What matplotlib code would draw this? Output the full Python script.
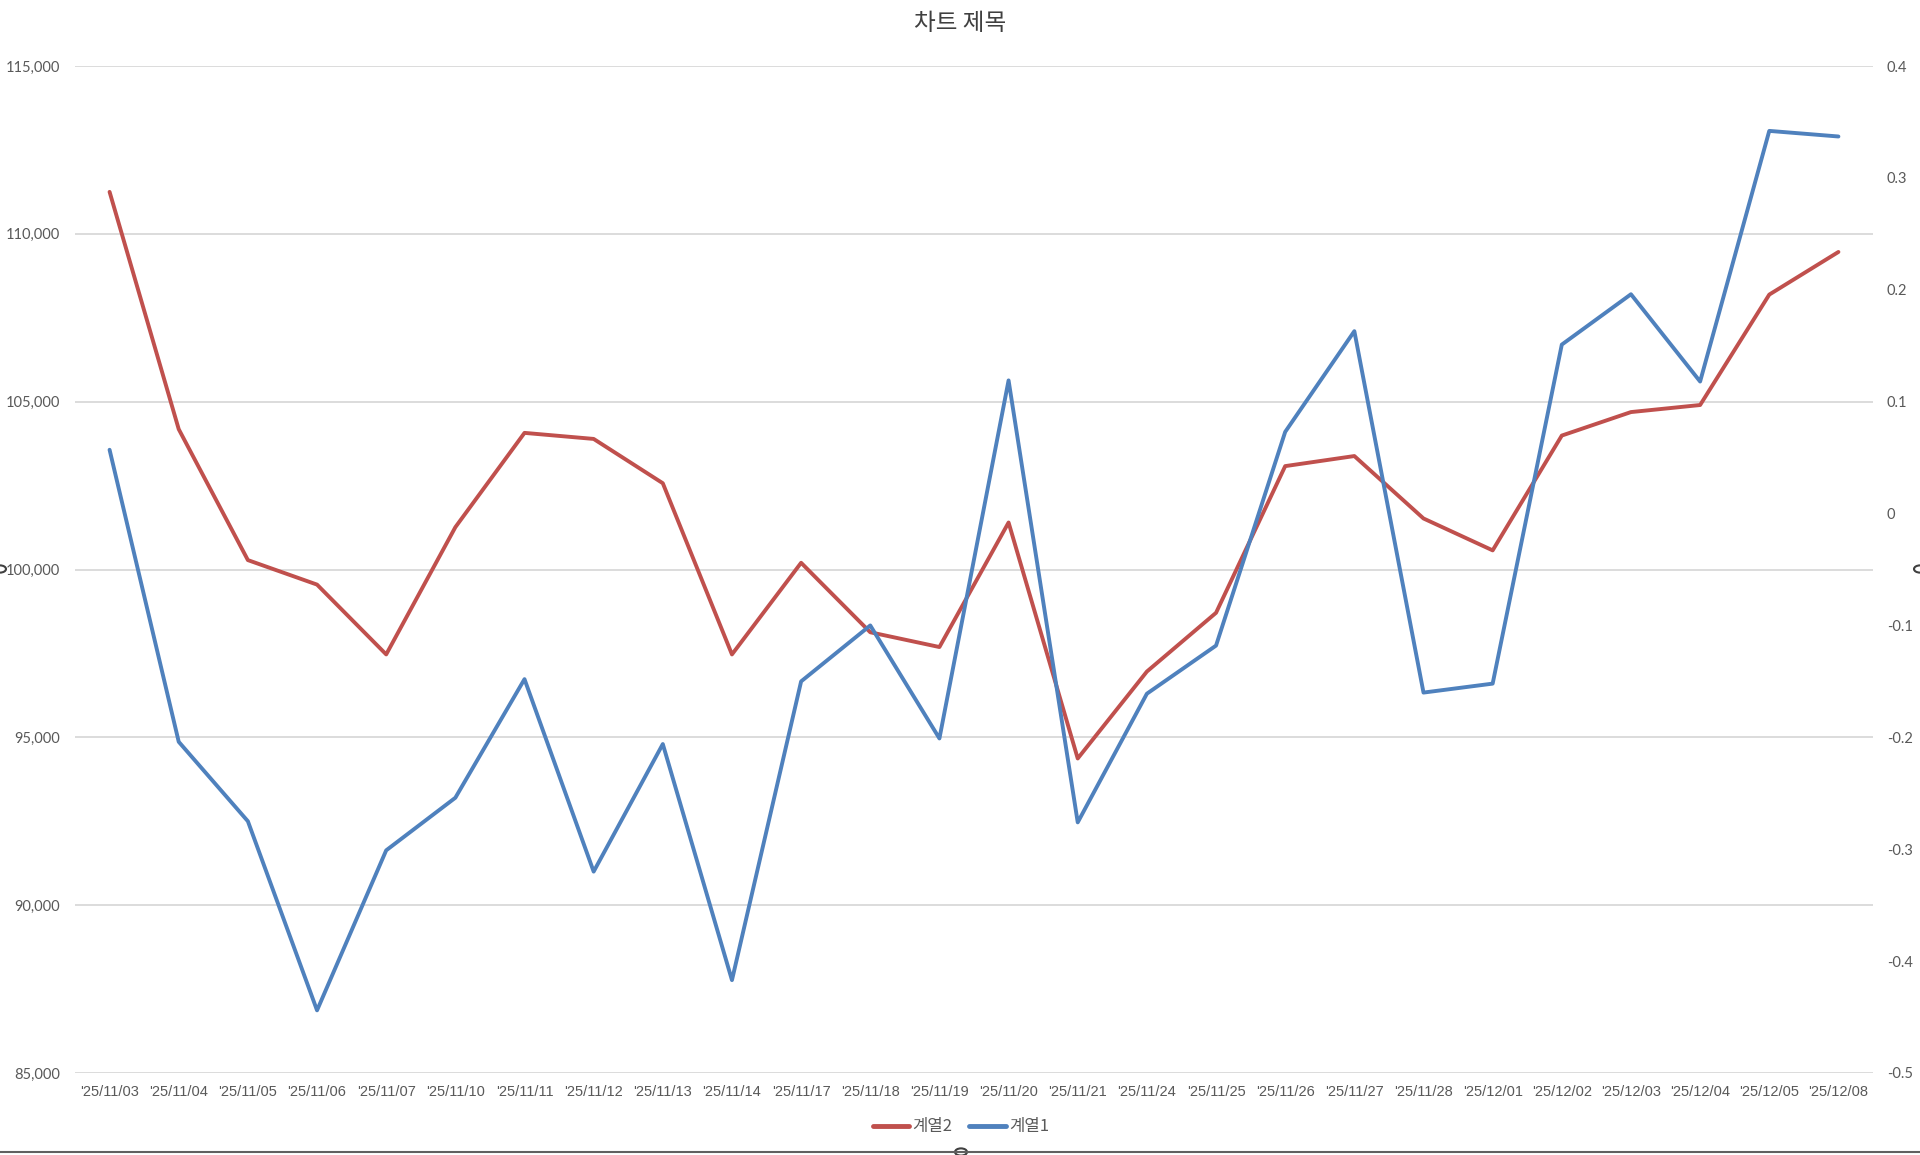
import matplotlib
matplotlib.use('Agg')
import matplotlib.pyplot as plt
from matplotlib.lines import Line2D
from matplotlib.patches import Circle

plt.rcParams['font.family'] = ['Noto Sans CJK KR', 'DejaVu Sans']

dates = ["'25/11/03", "'25/11/04", "'25/11/05", "'25/11/06", "'25/11/07", "'25/11/10",
         "'25/11/11", "'25/11/12", "'25/11/13", "'25/11/14", "'25/11/17", "'25/11/18",
         "'25/11/19", "'25/11/20", "'25/11/21", "'25/11/24", "'25/11/25", "'25/11/26",
         "'25/11/27", "'25/11/28", "'25/12/01", "'25/12/02", "'25/12/03", "'25/12/04",
         "'25/12/05", "'25/12/08"]

# 계열2 (left axis)
series2 = [111250, 104180, 100280, 99550, 97470, 101260, 104070, 103890, 102570, 97470,
           100200, 98130, 97690, 101400, 94370, 96960, 98710, 103080, 103380, 101520,
           100570, 103990, 104690, 104900, 108190, 109460]
# 계열1 (right axis)
series1 = [0.057, -0.204, -0.275, -0.444, -0.301, -0.254, -0.148, -0.320, -0.206, -0.417,
           -0.150, -0.100, -0.201, 0.119, -0.276, -0.161, -0.118, 0.073, 0.163, -0.160,
           -0.152, 0.151, 0.196, 0.118, 0.342, 0.337]

left_ticks = [85000, 90000, 95000, 100000, 105000, 110000, 115000]
right_ticks = [-0.5, -0.4, -0.3, -0.2, -0.1, 0, 0.1, 0.2, 0.3, 0.4]

red = '#C0504D'
blue = '#4F81BD'
txt = '#595959'

W, H = 1920, 1155
fig = plt.figure(figsize=(W / 100, H / 100), dpi=100)
ax = fig.add_axes([75 / W, 1 - 1073 / H, (1873 - 75) / W, (1073 - 66) / H])
ax2 = ax.twinx()

x = list(range(len(dates)))
ax.plot(x, series2, color=red, lw=2.8, solid_capstyle='round', solid_joinstyle='round', zorder=3)
ax2.plot(x, series1, color=blue, lw=2.8, solid_capstyle='round', solid_joinstyle='round', zorder=3)

ax.set_xlim(-0.5, len(dates) - 0.5)
ax.set_ylim(85000, 115000)
ax2.set_ylim(-0.5, 0.4)
ax.set_yticks(left_ticks)
ax.set_yticklabels([f'{v:,}' for v in left_ticks])
ax2.set_yticks(right_ticks)
ax2.set_yticklabels(['0' if v == 0 else f'{v:g}' for v in right_ticks])
ax.set_xticks(x)
ax.set_xticklabels(dates, family=['Liberation Sans', 'DejaVu Sans'], fontsize=10.5, color=txt)

ax.grid(axis='y', color='#D9D9D9', lw=1.3)
ax.set_axisbelow(True)
for a in (ax, ax2):
    for s in a.spines.values():
        s.set_visible(False)
ax.tick_params(axis='y', length=0, pad=11, labelsize=10.5, colors=txt)
ax2.tick_params(axis='y', length=0, pad=10, labelsize=10.5, colors=txt)
ax.tick_params(axis='x', length=0, pad=9)
for t in ax.get_yticklabels() + ax2.get_yticklabels():
    t.set_family(['Lato', 'DejaVu Sans'])

fig.text(0.5, 1 - 23 / H, '차트 제목', ha='center', va='center', fontsize=17, color='#404040')

handles = [Line2D([], [], color=red, lw=3.5, solid_capstyle='round'),
           Line2D([], [], color=blue, lw=3.5, solid_capstyle='round')]
fig.legend(handles, ['계열2', '계열1'], loc='center', bbox_to_anchor=(961 / W, 1 - 1127 / H),
           ncol=2, frameon=False, fontsize=12, handlelength=2.2, handletextpad=0.2,
           columnspacing=1.0, labelcolor=txt)

# chart frame bottom edge with selection handles
fig.add_artist(Line2D([0, 1], [1 - 1152 / H, 1 - 1152 / H], transform=fig.transFigure, color='#606060', lw=1.5))
for cx, cy in [(0, 569), (961, 1152), (1920, 569)]:
    fig.add_artist(Circle((cx / W, 1 - cy / H), 6 / W, transform=fig.transFigure,
                          facecolor='white', edgecolor='#404040', lw=1.5))

fig.savefig('out.png', dpi=100)
